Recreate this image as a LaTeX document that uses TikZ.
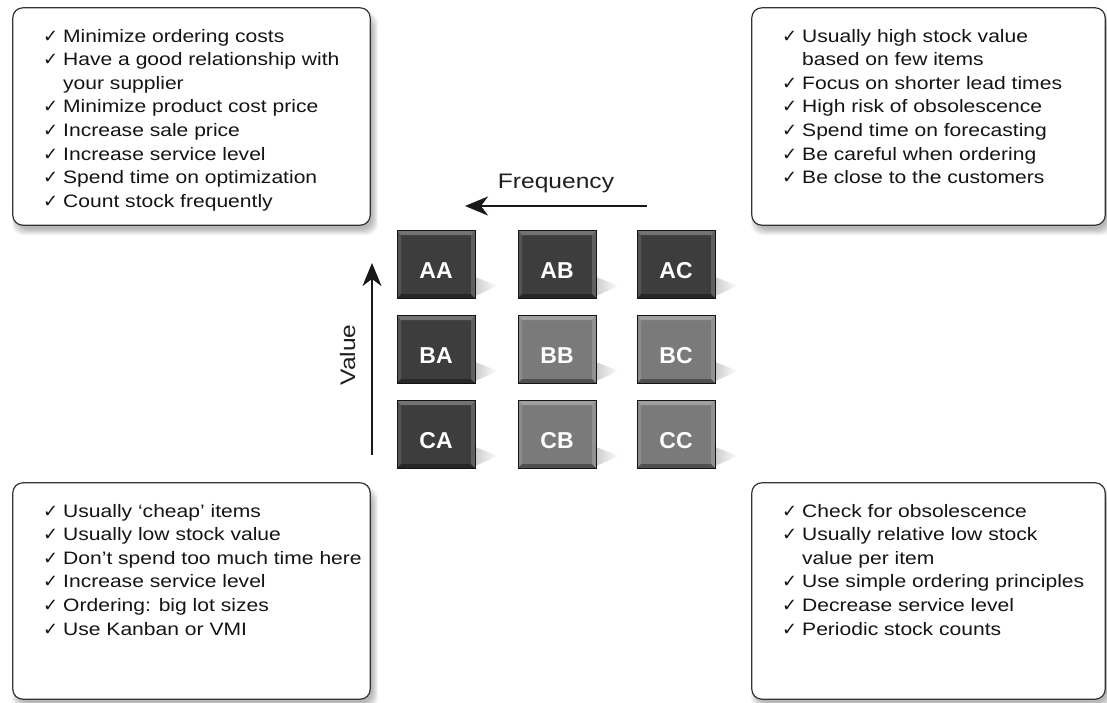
\documentclass[tikz,border=0pt]{standalone}
\usepackage{graphicx}
\usepackage{fontspec}
\setmainfont{Liberation Sans}
\newfontfamily\ckfont{DejaVu Sans}
\usetikzlibrary{arrows.meta,calc}
\newcommand{\wide}[1]{\scalebox{1.17}[1]{#1}}
\newcommand{\ckline}[1]{\hbox{\makebox[20pt][l]{\ckfont\fontsize{18}{18}\selectfont ✓}\wide{#1}}}
\newcommand{\ckmore}[1]{\hbox{\hspace*{20pt}\wide{#1}}}
\newcommand{\cklist}[1]{\vtop{\fontsize{18}{23.6}\selectfont\baselineskip=23.6pt\lineskiplimit=-20pt\lineskip=0pt #1}}
\begin{document}
\begin{tikzpicture}[x=1pt,y=-1pt,
  box/.style={draw=black!80, line width=1.2pt, rounded corners=10pt, fill=white, inner sep=0pt},
  listtext/.style={anchor=base west, inner sep=0pt, text=black!92},
  sq/.style={minimum width=78pt, minimum height=68pt, inner sep=0pt, draw=black!92, line width=0.8pt,
    text=white, font=\fontsize{23}{23}\selectfont\bfseries, text height=28pt, text depth=0pt,
    path picture={
      \fill[white,opacity=0.28] (path picture bounding box.north west) -- (path picture bounding box.north east)
        -- ([xshift=-4pt,yshift=-5pt]path picture bounding box.north east) -- ([xshift=4pt,yshift=-5pt]path picture bounding box.north west) -- cycle;
      \fill[white,opacity=0.12] (path picture bounding box.north west) -- ([xshift=4pt,yshift=-5pt]path picture bounding box.north west)
        -- ([xshift=4pt,yshift=4pt]path picture bounding box.south west) -- (path picture bounding box.south west) -- cycle;
      \fill[white,opacity=0.18] (path picture bounding box.north east) -- ([xshift=-4pt,yshift=-5pt]path picture bounding box.north east)
        -- ([xshift=-4pt,yshift=4pt]path picture bounding box.south east) -- (path picture bounding box.south east) -- cycle;
      \fill[black,opacity=0.35] (path picture bounding box.south west) -- (path picture bounding box.south east)
        -- ([xshift=-4pt,yshift=4pt]path picture bounding box.south east) -- ([xshift=4pt,yshift=4pt]path picture bounding box.south west) -- cycle;
    }},
  darksq/.style={sq, fill=black!76},
  lightsq/.style={sq, fill=black!52},
  arr/.style={line width=2pt, draw=black!90, -{Stealth[length=23pt,width=19pt,inset=7pt]}},
  axislabel/.style={inner sep=0pt, text=black!88, font=\fontsize{21}{21}\selectfont}
]
\useasboundingbox (0,0) rectangle (1107,702);
\fill[white] (0,0) rectangle (1107,702);

% ---- text boxes (positions) ----
\path (191.5,116.5) node[minimum width=357pt, minimum height=217pt, inner sep=0pt] (tl) {};
\path (928.5,116.5) node[minimum width=353pt, minimum height=217pt, inner sep=0pt] (tr) {};
\path (191.5,591) node[minimum width=357pt, minimum height=216pt, inner sep=0pt] (bl) {};
\path (928.5,591) node[minimum width=353pt, minimum height=216pt, inner sep=0pt] (br) {};

% shadows of the boxes
\foreach \b in {tl,tr,bl,br}{
  \foreach \i in {0,...,6}{
    \fill[black, opacity=0.045, rounded corners=12pt]
      ($(\b.north west)+(5-\i,10-\i)$) rectangle ($(\b.south east)+(2+\i,4+\i)$);
  }
}
\foreach \b in {tl,tr,bl,br}{
  \draw[box] (\b.north west) rectangle (\b.south east);
}

% ---- list texts ----
\node[listtext] (tltext) at (43,42) {\cklist{%
  \ckline{Minimize ordering costs}
  \ckline{Have a good relationship with}
  \ckmore{your supplier}
  \ckline{Minimize product cost price}
  \ckline{Increase sale price}
  \ckline{Increase service level}
  \ckline{Spend time on optimization}
  \ckline{Count stock frequently}}};
\node[listtext] (trtext) at (782,42) {\cklist{%
  \ckline{Usually high stock value}
  \ckmore{based on few items}
  \ckline{Focus on shorter lead times}
  \ckline{High risk of obsolescence}
  \ckline{Spend time on forecasting}
  \ckline{Be careful when ordering}
  \ckline{Be close to the customers}}};
\node[listtext] (bltext) at (43,517) {\cklist{%
  \ckline{Usually ‘cheap’ items}
  \ckline{Usually low stock value}
  \ckline{Don’t spend too much time here}
  \ckline{Increase service level}
  \ckline{Ordering: big lot sizes}
  \ckline{Use Kanban or VMI}}};
\node[listtext] (brtext) at (782,517) {\cklist{%
  \ckline{Check for obsolescence}
  \ckline{Usually relative low stock}
  \ckmore{value per item}
  \ckline{Use simple ordering principles}
  \ckline{Decrease service level}
  \ckline{Periodic stock counts}}};

% ---- grid squares ----
\path (436,264) coordinate (c11) (557,264) coordinate (c12) (676,264) coordinate (c13)
      (436,349) coordinate (c21) (557,349) coordinate (c22) (676,349) coordinate (c23)
      (436,434) coordinate (c31) (557,434) coordinate (c32) (676,434) coordinate (c33);
% soft shadows to the right of the squares
\foreach \c in {c11,c12,c13,c21,c22,c23,c31,c32,c33}{
  \shade[left color=black!20, right color=white]
    ($(\c)+(39,13)$) -- ($(\c)+(62,22)$) -- ($(\c)+(39,32)$) -- cycle;
}
\node[darksq] (AA) at (c11) {AA};
\node[darksq] (AB) at (c12) {AB};
\node[darksq] (AC) at (c13) {AC};
\node[darksq] (BA) at (c21) {BA};
\node[lightsq] (BB) at (c22) {BB};
\node[lightsq] (BC) at (c23) {BC};
\node[darksq] (CA) at (c31) {CA};
\node[lightsq] (CB) at (c32) {CB};
\node[lightsq] (CC) at (c33) {CC};

% ---- axes ----
\coordinate (fs) at (647,206);
\coordinate (fe) at (465,206);
\draw[arr] (fs) -- (fe);
\node[axislabel, anchor=base] (freq) at (556,188) {\wide{Frequency}};

\coordinate (vs) at (372,455);
\coordinate (ve) at (372,263);
\draw[arr] (vs) -- (ve);
\node[axislabel, rotate=90, anchor=base] (val) at (355,355) {\wide{Value}};
\end{tikzpicture}
\end{document}
